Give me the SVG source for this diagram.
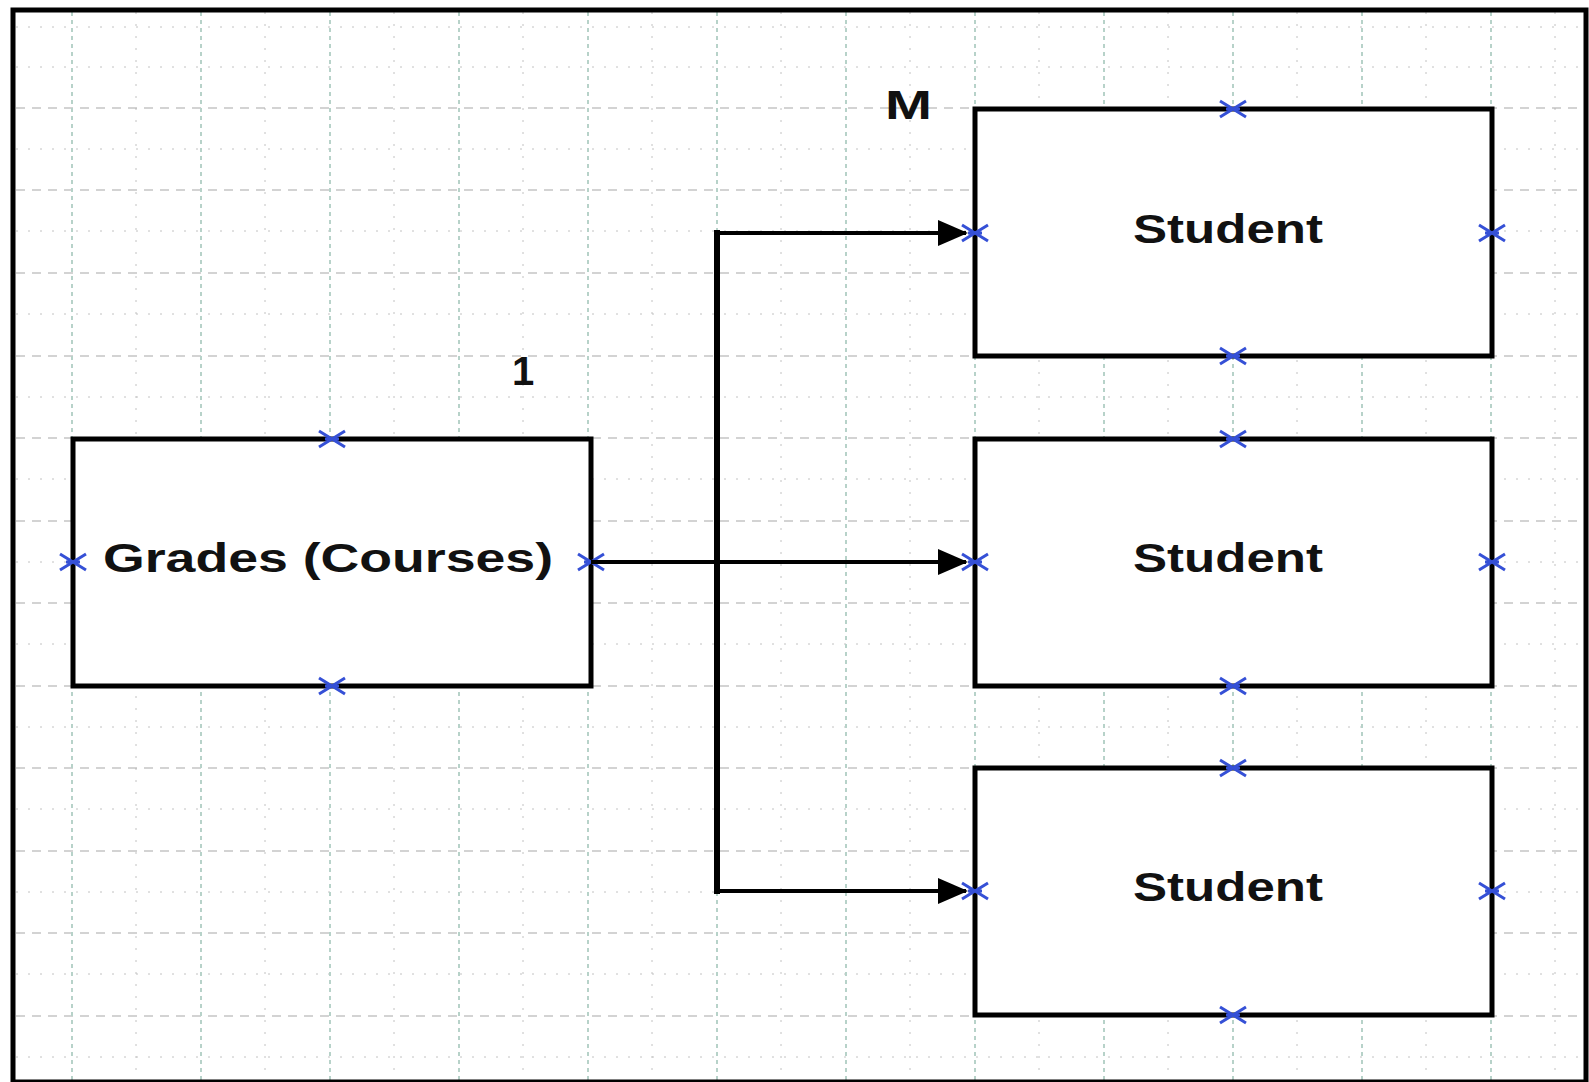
<svg xmlns="http://www.w3.org/2000/svg" width="1589" height="1082" viewBox="0 0 1589 1082">
  <style>
    .box { fill: #ffffff; stroke: #000000; stroke-width: 5; }
    .lbl { font-family: "Liberation Sans", Arial, sans-serif; font-weight: bold; font-size: 40px; fill: #111111; }
    .conn { fill: none; stroke: #000000; stroke-width: 4; }
    .trunk { fill: none; stroke: #000000; stroke-width: 6; }
    .gmaj { stroke: #a8a8a8; stroke-width: 1.2; stroke-dasharray: 9 7; }
    .gvmaj { stroke: #b7d2c9; stroke-width: 2; stroke-dasharray: 4 4; }
    .gmin { stroke: #c2c2c2; stroke-width: 1; stroke-dasharray: 2 10; }
  </style>
  <defs>
    <g id="xm">
      <path d="M-13,-8 L13,8 M-13,8 L13,-8 M-7,0 L7,0" fill="none" stroke="#3550d6" stroke-width="3"/>
    </g>
    <marker id="arrow" markerUnits="userSpaceOnUse" markerWidth="30" markerHeight="26" viewBox="0 0 30 26" refX="28" refY="13" orient="auto">
      <path d="M0,0 L30,13 L0,26 Z" fill="#000000"/>
    </marker>
  </defs>
  <rect x="0" y="0" width="1589" height="1082" fill="#ffffff"/>
  <g id="grid">
    <g class="gmin">
      <line x1="16" y1="27" x2="1584" y2="27"/>
      <line x1="16" y1="67" x2="1584" y2="67"/>
      <line x1="16" y1="149" x2="1584" y2="149"/>
      <line x1="16" y1="231" x2="1584" y2="231"/>
      <line x1="16" y1="314" x2="1584" y2="314"/>
      <line x1="16" y1="397" x2="1584" y2="397"/>
      <line x1="16" y1="479" x2="1584" y2="479"/>
      <line x1="16" y1="562" x2="1584" y2="562"/>
      <line x1="16" y1="644" x2="1584" y2="644"/>
      <line x1="16" y1="727" x2="1584" y2="727"/>
      <line x1="16" y1="809" x2="1584" y2="809"/>
      <line x1="16" y1="892" x2="1584" y2="892"/>
      <line x1="16" y1="974" x2="1584" y2="974"/>
      <line x1="16" y1="1057" x2="1584" y2="1057"/>
      <line x1="136" y1="12" x2="136" y2="1080"/>
      <line x1="265" y1="12" x2="265" y2="1080"/>
      <line x1="394" y1="12" x2="394" y2="1080"/>
      <line x1="523" y1="12" x2="523" y2="1080"/>
      <line x1="652" y1="12" x2="652" y2="1080"/>
      <line x1="781" y1="12" x2="781" y2="1080"/>
      <line x1="910" y1="12" x2="910" y2="1080"/>
      <line x1="1039" y1="12" x2="1039" y2="1080"/>
      <line x1="1168" y1="12" x2="1168" y2="1080"/>
      <line x1="1297" y1="12" x2="1297" y2="1080"/>
      <line x1="1426" y1="12" x2="1426" y2="1080"/>
      <line x1="1555" y1="12" x2="1555" y2="1080"/>
    </g>
    <g class="gmaj">
      <line x1="16" y1="108" x2="1584" y2="108"/>
      <line x1="16" y1="190" x2="1584" y2="190"/>
      <line x1="16" y1="273" x2="1584" y2="273"/>
      <line x1="16" y1="356" x2="1584" y2="356"/>
      <line x1="16" y1="438" x2="1584" y2="438"/>
      <line x1="16" y1="521" x2="1584" y2="521"/>
      <line x1="16" y1="603" x2="1584" y2="603"/>
      <line x1="16" y1="686" x2="1584" y2="686"/>
      <line x1="16" y1="768" x2="1584" y2="768"/>
      <line x1="16" y1="851" x2="1584" y2="851"/>
      <line x1="16" y1="933" x2="1584" y2="933"/>
      <line x1="16" y1="1016" x2="1584" y2="1016"/>
    </g>
    <g class="gvmaj">
      <line x1="72" y1="12" x2="72" y2="1080"/>
      <line x1="201" y1="12" x2="201" y2="1080"/>
      <line x1="330" y1="12" x2="330" y2="1080"/>
      <line x1="459" y1="12" x2="459" y2="1080"/>
      <line x1="588" y1="12" x2="588" y2="1080"/>
      <line x1="717" y1="12" x2="717" y2="1080"/>
      <line x1="846" y1="12" x2="846" y2="1080"/>
      <line x1="975" y1="12" x2="975" y2="1080"/>
      <line x1="1104" y1="12" x2="1104" y2="1080"/>
      <line x1="1233" y1="12" x2="1233" y2="1080"/>
      <line x1="1362" y1="12" x2="1362" y2="1080"/>
      <line x1="1491" y1="12" x2="1491" y2="1080"/>
    </g>
  </g>
  <rect x="13" y="10" width="1573" height="1072" fill="none" stroke="#000000" stroke-width="5"/>

  <g id="node-grades">
    <rect class="box" x="73" y="439" width="518" height="247"/>
    <text class="lbl" x="103" y="572" textLength="450" lengthAdjust="spacingAndGlyphs">Grades (Courses)</text>
    <use href="#xm" x="332" y="439"/>
    <use href="#xm" x="332" y="686"/>
    <use href="#xm" x="73" y="562"/>
    <use href="#xm" x="591" y="562"/>
  </g>
  <g id="node-student1">
    <rect class="box" x="975" y="109" width="517" height="247"/>
    <text class="lbl" x="1133" y="243" textLength="190" lengthAdjust="spacingAndGlyphs">Student</text>
    <use href="#xm" x="1233" y="109"/>
    <use href="#xm" x="1233" y="356"/>
    <use href="#xm" x="975" y="233"/>
    <use href="#xm" x="1492" y="233"/>
  </g>
  <g id="node-student2">
    <rect class="box" x="975" y="439" width="517" height="247"/>
    <text class="lbl" x="1133" y="572" textLength="190" lengthAdjust="spacingAndGlyphs">Student</text>
    <use href="#xm" x="1233" y="439"/>
    <use href="#xm" x="1233" y="686"/>
    <use href="#xm" x="975" y="562"/>
    <use href="#xm" x="1492" y="562"/>
  </g>
  <g id="node-student3">
    <rect class="box" x="975" y="768" width="517" height="247"/>
    <text class="lbl" x="1133" y="901" textLength="190" lengthAdjust="spacingAndGlyphs">Student</text>
    <use href="#xm" x="1233" y="768"/>
    <use href="#xm" x="1233" y="1015"/>
    <use href="#xm" x="975" y="891"/>
    <use href="#xm" x="1492" y="891"/>
  </g>

  <g id="connectors">
    <path class="conn" d="M591,562 H966" marker-end="url(#arrow)"/>
    <line class="trunk" x1="717" y1="230" x2="717" y2="894"/>
    <path class="conn" d="M717,233 H966" marker-end="url(#arrow)"/>
    <path class="conn" d="M717,891 H966" marker-end="url(#arrow)"/>
  </g>

  <g id="labels">
    <text class="lbl" x="885" y="119" textLength="47" lengthAdjust="spacingAndGlyphs">M</text>
    <text class="lbl" x="512" y="385" font-size="38">1</text>
  </g>
</svg>
